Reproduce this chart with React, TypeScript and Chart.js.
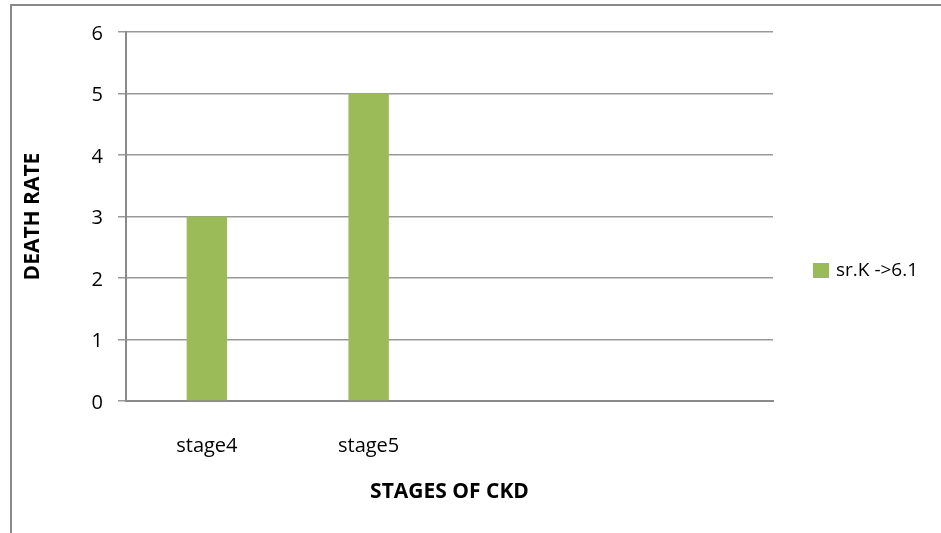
import React, { useEffect, useRef } from "react";
import { Chart, registerables } from "chart.js";

Chart.register(...registerables);

const categories = ["stage4", "stage5", "", ""];
const seriesLabel = "sr.K ->6.1";
const seriesValues: (number | null)[] = [3, 5, null, null];
const yTicks = [0, 1, 2, 3, 4, 5, 6];

const FONT = "'Open Sans', 'Noto Sans', sans-serif";
const GREEN = "#9bbb59";
const GRID = "#999999";
const AXIS = "#8a8a8a";

const legendPlugin = {
  id: "customLegend",
  afterDraw(chart: any) {
    const ctx = chart.ctx;
    const ds = chart.data.datasets[0];
    ctx.save();
    ctx.fillStyle = ds.backgroundColor;
    ctx.fillRect(813, 263, 16, 15);
    ctx.fillStyle = "#000";
    ctx.font = `19px ${FONT}`;
    ctx.textBaseline = "middle";
    ctx.textAlign = "left";
    ctx.fillText(ds.label, 836, 271);
    ctx.restore();
  },
};

export default function App() {
  const ref = useRef<HTMLCanvasElement>(null);
  useEffect(() => {
    if (!ref.current) return;
    const chart = new Chart(ref.current, {
      type: "bar",
      data: {
        labels: categories,
        datasets: [
          {
            label: seriesLabel,
            data: seriesValues,
            backgroundColor: GREEN,
            borderWidth: 0,
            categoryPercentage: 1,
            barPercentage: 0.25,
          },
        ],
      },
      options: {
        responsive: false,
        animation: false,
        layout: { padding: { left: 15, top: 32, right: 168, bottom: 0 } },
        plugins: { legend: { display: false }, tooltip: { enabled: false } },
        scales: {
          x: {
            grid: { display: false, drawTicks: false },
            border: { display: true, color: AXIS, width: 2 },
            ticks: { color: "#000", font: { family: FONT, size: 20 }, padding: 33, maxRotation: 0 },
            title: {
              display: true,
              text: "STAGES OF CKD",
              color: "#000",
              font: { family: FONT, size: 21, weight: "bold" },
              padding: { top: 0, bottom: 28 },
            },
            afterFit(scale: any) {
              scale.height = 132;
            },
          },
          y: {
            min: 0,
            max: 6,
            afterBuildTicks(scale: any) {
              scale.ticks = yTicks.map((v) => ({ value: v }));
            },
            grid: { color: GRID, lineWidth: 1.5, tickLength: 8, tickColor: GRID },
            border: { display: true, color: AXIS, width: 2 },
            ticks: { color: "#000", font: { family: FONT, size: 20 }, padding: 15, labelOffset: 2 },
            title: {
              display: true,
              text: "DEATH RATE",
              color: "#000",
              font: { family: FONT, size: 21, weight: "bold" },
              padding: { top: 5, bottom: 0 },
            },
            afterFit(scale: any) {
              scale.width = 111;
            },
          },
        },
      },
      plugins: [legendPlugin],
    });
    return () => chart.destroy();
  }, []);

  return (
    <div style={{ position: "absolute", left: 0, top: 0, width: 941, height: 533, overflow: "hidden", background: "#fff" }}>
      <div
        style={{
          position: "absolute",
          left: 10,
          top: 4,
          width: 1000,
          height: 1000,
          border: "2px solid #8a8a8a",
        }}
      />
      <canvas ref={ref} width={941} height={533} style={{ position: "absolute", left: 0, top: 0 }} />
    </div>
  );
}
